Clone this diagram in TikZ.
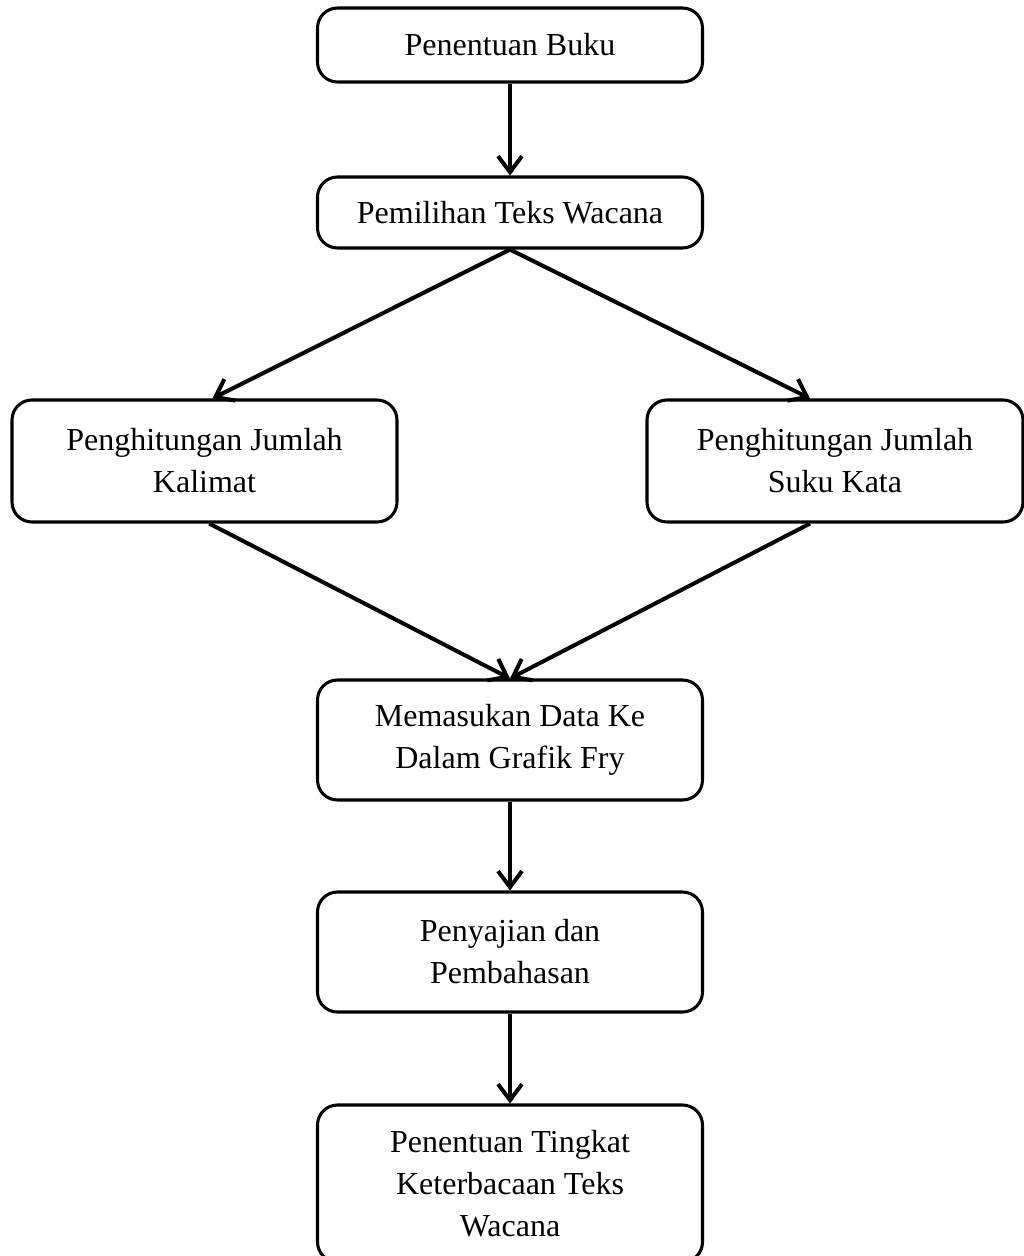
\documentclass[tikz,border=0pt]{standalone}
\usepackage{fontspec}
\setmainfont{Liberation Serif}
\usepackage{tikz}
\usetikzlibrary{arrows.meta}
\usetikzlibrary{positioning}
\tikzset{step box/.style = {draw, rounded corners = 15pt, line width = 2.3pt,
                            inner sep = 0, align = center, minimum width = 288.75pt,
                            font = \fontsize{24}{31.5}\selectfont}}
\tikzset{flow/.style = {line width = 3pt,
                        -{Straight Barb[length = 12pt, width = 18pt]}}}

\begin{document}
\begin{tikzpicture}[x=0.75pt, y=-0.75pt]
      \useasboundingbox (0, 0) rectangle (1024, 1256);

      \node [step box, minimum height = 55.5pt] (buku) at (510, 45) {Penentuan Buku};
      \node [step box, minimum height = 53.25pt] (teks) at (510, 212.5) {Pemilihan Teks Wacana};

      \node [step box, minimum height = 91.5pt] (kalimat) at (204.5, 461) {Penghitungan Jumlah\\Kalimat};
      \node [step box, minimum height = 91.5pt, minimum width = 282pt] (suku) at (835, 461) {Penghitungan Jumlah\\Suku Kata};

      \node [step box, minimum height = 90pt] (grafik) at (510, 740) {Memasukan Data Ke\\Dalam Grafik Fry};
      \node [step box, minimum height = 90pt] (sajian) at (510, 952) {Penyajian dan\\Pembahasan};
      \node [step box, minimum height = 117.75pt] (tingkat) at (510, 1183.5) {Penentuan Tingkat\\Keterbacaan Teks\\Wacana};

      \draw [flow] (buku) -- (teks);
      \draw [flow] (teks.south) -- ([xshift = 6pt] kalimat.north);
      \draw [flow] (teks.south) -- ([xshift = -18.75pt] suku.north);
      \draw [flow] ([xshift = 3.5pt] kalimat.south) -- (grafik.north);
      \draw [flow] ([xshift = -18.75pt] suku.south) -- (grafik.north);
      \draw [flow] (grafik) -- (sajian);
      \draw [flow] (sajian) -- (tingkat);
    \end{tikzpicture}
\end{document}
